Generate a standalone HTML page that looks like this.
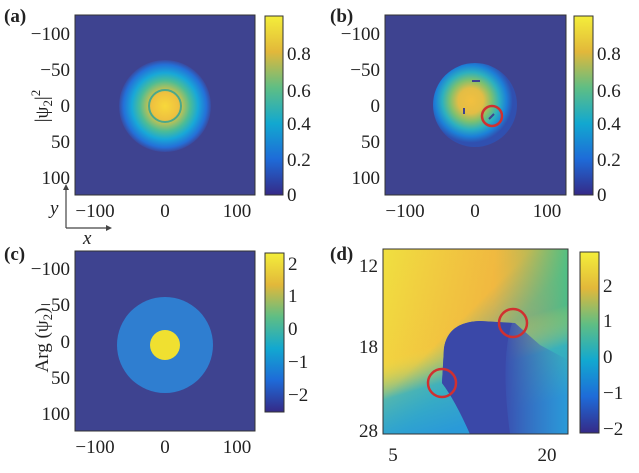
<!DOCTYPE html>
<html><head><meta charset="utf-8"><style>
body{margin:0;background:#fff}
svg text{font-family:"Liberation Serif","Times New Roman",serif;font-size:19px;fill:#222}
</style></head><body>
<svg width="639" height="468" xmlns="http://www.w3.org/2000/svg" font-family="Liberation Serif, serif">
<defs>
<linearGradient id="cb" x1="0" y1="1" x2="0" y2="0">
<stop offset="0" stop-color="#352a87"/><stop offset="0.2" stop-color="#1e6bd8"/><stop offset="0.4" stop-color="#12a8d0"/><stop offset="0.6" stop-color="#5fbe84"/><stop offset="0.8" stop-color="#e2b83a"/><stop offset="1" stop-color="#f4ee3a"/>
</linearGradient>
<radialGradient id="ga">
<stop offset="0" stop-color="#f8d83a"/><stop offset="0.3" stop-color="#eec040"/><stop offset="0.4" stop-color="#a8c060"/><stop offset="0.55" stop-color="#4cbc96"/><stop offset="0.72" stop-color="#18a8d8"/><stop offset="0.9" stop-color="#2470d8"/><stop offset="1" stop-color="#3a4aa0"/>
</radialGradient>
<radialGradient id="gb" cx="0.45" cy="0.45">
<stop offset="0" stop-color="#f2c040"/><stop offset="0.3" stop-color="#e3bd45"/><stop offset="0.5" stop-color="#7cc070"/><stop offset="0.68" stop-color="#2cb0c0"/><stop offset="0.85" stop-color="#1c80d8"/><stop offset="1" stop-color="#3050b0"/>
</radialGradient>
<linearGradient id="gd" x1="0" y1="0" x2="1" y2="1">
<stop offset="0" stop-color="#f0e040"/><stop offset="0.4" stop-color="#f2d040"/><stop offset="0.55" stop-color="#40b8b0"/><stop offset="0.7" stop-color="#2a8ad8"/><stop offset="1" stop-color="#3660c0"/>
</linearGradient>
<linearGradient id="gd2" x1="0" y1="0" x2="1" y2="0">
<stop offset="0" stop-color="#f0a040" stop-opacity="0"/><stop offset="0.6" stop-color="#f0a040" stop-opacity="0.5"/><stop offset="1" stop-color="#50c080" stop-opacity="0.9"/>
</linearGradient>
<linearGradient id="gd3" x1="0" y1="0" x2="0.3" y2="1">
<stop offset="0" stop-color="#f0e040" stop-opacity="0"/><stop offset="0.55" stop-color="#f0e040" stop-opacity="0"/><stop offset="0.75" stop-color="#30b0c8" stop-opacity="0.8"/><stop offset="1" stop-color="#2a9ad8" stop-opacity="1"/>
</linearGradient>
<linearGradient id="gdr" x1="0" y1="0" x2="1" y2="0">
<stop offset="0" stop-color="#3a48a8"/><stop offset="0.5" stop-color="#3a50b0"/><stop offset="1" stop-color="#3a60c0" stop-opacity="0"/>
</linearGradient>
</defs>
<!-- (a) -->
<rect x="75" y="15" width="180" height="180" fill="#3e4390" stroke="#333"/>
<circle cx="165" cy="106" r="46" fill="url(#ga)"/>
<circle cx="165" cy="106" r="16" fill="none" stroke="#4ca88a" stroke-width="2"/>
<rect x="265" y="16" width="18" height="179" fill="url(#cb)" stroke="#333"/>
<text x="4" y="22" font-weight="bold">(a)</text>
<g text-anchor="end"><text x="70" y="40">−100</text><text x="70" y="76">−50</text><text x="70" y="112">0</text><text x="70" y="148">50</text><text x="70" y="184">100</text></g>
<g text-anchor="middle"><text x="95" y="217">−100</text><text x="165" y="217">0</text><text x="237" y="217">100</text></g>
<g><text x="287" y="60">0.8</text><text x="287" y="97">0.6</text><text x="287" y="130">0.4</text><text x="287" y="166">0.2</text><text x="287" y="201">0</text></g>
<text transform="translate(48,106) rotate(-90)" text-anchor="middle">|ψ<tspan font-size="13" dy="4">2</tspan><tspan dy="-4">|</tspan><tspan font-size="13" dy="-8">2</tspan></text>
<path d="M66 228 V188 M66 228 H108" stroke="#444" stroke-width="1.2" fill="none"/>
<path d="M63 190 L66 184 L69 190Z M106 225 L112 228 L106 231Z" fill="#444"/>
<text x="50" y="214" font-style="italic">y</text><text x="83" y="244" font-style="italic">x</text>
<!-- (b) -->
<rect x="385" y="15" width="181" height="180" fill="#3e4390" stroke="#333"/>
<circle cx="475" cy="105" r="42" fill="url(#gb)"/>
<path d="M472 81 h8 M464 108 v6 M489 119 l5 -5" stroke="#3e4390" stroke-width="2"/>
<circle cx="492" cy="116" r="10" fill="none" stroke="#d03030" stroke-width="2.5"/>
<rect x="574" y="16" width="19" height="179" fill="url(#cb)" stroke="#333"/>
<text x="330" y="22" font-weight="bold">(b)</text>
<g text-anchor="end"><text x="380" y="40">−100</text><text x="380" y="76">−50</text><text x="380" y="112">0</text><text x="380" y="148">50</text><text x="380" y="184">100</text></g>
<g text-anchor="middle"><text x="405" y="217">−100</text><text x="475" y="217">0</text><text x="547" y="217">100</text></g>
<g><text x="597" y="60">0.8</text><text x="597" y="97">0.6</text><text x="597" y="130">0.4</text><text x="597" y="166">0.2</text><text x="597" y="201">0</text></g>
<!-- (c) -->
<rect x="75" y="251" width="180" height="180" fill="#3e4390" stroke="#333"/>
<circle cx="165" cy="345" r="48" fill="#2f7ed0"/>
<circle cx="165" cy="345" r="15" fill="#f0e030"/>
<rect x="265" y="253" width="19" height="159" fill="url(#cb)" stroke="#333"/>
<text x="4" y="260" font-weight="bold">(c)</text>
<g text-anchor="end"><text x="70" y="275">−100</text><text x="70" y="311">−50</text><text x="70" y="348">0</text><text x="70" y="384">50</text><text x="70" y="420">100</text></g>
<g text-anchor="middle"><text x="95" y="453">−100</text><text x="165" y="453">0</text><text x="237" y="453">100</text></g>
<g><text x="288" y="270">2</text><text x="288" y="302">1</text><text x="288" y="335">0</text><text x="288" y="368">−1</text><text x="288" y="401">−2</text></g>
<text transform="translate(48,340) rotate(-90)" text-anchor="middle">Arg (ψ<tspan font-size="13" dy="4">2</tspan><tspan dy="-4">)</tspan></text>
<!-- (d) -->
<rect x="383" y="249" width="185" height="185" fill="url(#gd)"/>
<rect x="383" y="249" width="185" height="185" fill="url(#gd2)"/>
<rect x="383" y="249" width="185" height="185" fill="url(#gd3)"/>
<path d="M442 383 L444 348 Q448 322 480 321 L515 323 L540 345 L568 360 L568 434 L470 434 Q455 400 442 383Z" fill="url(#gdr)"/>
<path d="M442 383 L444 348 Q448 322 480 321 L512 323 Q500 360 510 434 L470 434 Q455 400 442 383Z" fill="#3a48a8"/>
<rect x="383" y="249" width="185" height="185" fill="none" stroke="#333"/>
<circle cx="442" cy="383" r="14" fill="none" stroke="#d03030" stroke-width="2.5"/>
<circle cx="513" cy="323" r="14" fill="none" stroke="#d03030" stroke-width="2.5"/>
<rect x="580" y="252" width="19" height="181" fill="url(#cb)" stroke="#333"/>
<text x="330" y="260" font-weight="bold">(d)</text>
<g text-anchor="end"><text x="378" y="272">12</text><text x="378" y="353">18</text><text x="378" y="437">28</text></g>
<g text-anchor="middle"><text x="393" y="461">5</text><text x="547" y="461">20</text></g>
<g><text x="603" y="292">2</text><text x="603" y="327">1</text><text x="603" y="363">0</text><text x="603" y="399">−1</text><text x="603" y="435">−2</text></g>
</svg>
</body></html>
